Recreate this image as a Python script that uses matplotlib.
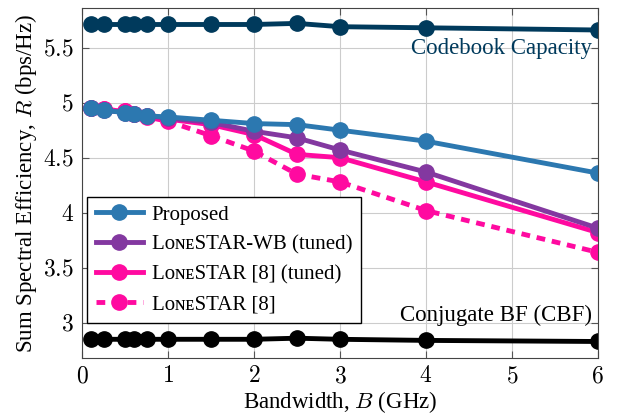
import numpy as np
import matplotlib
matplotlib.use("Agg")
import matplotlib.pyplot as plt

plt.rcParams['font.family'] = ['Liberation Serif', 'STIXGeneral', 'DejaVu Serif']
plt.rcParams['mathtext.fontset'] = 'cm'
plt.rcParams['font.size'] = 16.5

# bandwidth points (GHz)
bw = [0.1, 0.25, 0.5, 0.6, 0.75, 1, 1.5, 2, 2.5, 3, 4, 6]

codebook = [5.71, 5.71, 5.71, 5.71, 5.71, 5.71, 5.71, 5.71, 5.72, 5.69, 5.68, 5.66]
cbf = [2.85, 2.85, 2.85, 2.85, 2.85, 2.85, 2.85, 2.85, 2.86, 2.85, 2.84, 2.83]
proposed = [4.95, 4.93, 4.91, 4.90, 4.88, 4.87, 4.84, 4.81, 4.80, 4.75, 4.65, 4.36]
lonestar_wb = [4.95, 4.93, 4.91, 4.90, 4.88, 4.86, 4.82, 4.74, 4.68, 4.57, 4.37, 3.86]
lonestar_tuned = [4.95, 4.94, 4.92, 4.90, 4.88, 4.85, 4.80, 4.71, 4.53, 4.50, 4.28, 3.82]
lonestar = [4.95, 4.94, 4.92, 4.90, 4.87, 4.83, 4.70, 4.56, 4.35, 4.28, 4.02, 3.64]

xticks = [0, 1, 2, 3, 4, 5, 6]
yticks = [3, 3.5, 4, 4.5, 5, 5.5]

sc = "L\u1d0f\u0274\u1d07STAR"
labels = ["Proposed", sc + "-WB (tuned)", sc + " [8] (tuned)", sc + " [8]"]

c_code = '#003a5c'
c_prop = '#2c78b0'
c_wb = '#8338a0'
c_pink = '#ff0aa0'

fig = plt.figure(figsize=(6.36, 4.2), dpi=100)
ax = fig.add_axes([0.129, 0.1476, 0.811, 0.8334])

kw = dict(lw=3.5, marker='o', ms=11)
ax.plot(bw, codebook, color=c_code, **kw)
ax.plot(bw, cbf, color='black', **kw)
ax.plot(bw, lonestar, color=c_pink, ls=(0, (1.8, 1.4)), label=labels[3], **kw)
ax.plot(bw, lonestar_tuned, color=c_pink, label=labels[2], **kw)
ax.plot(bw, lonestar_wb, color=c_wb, label=labels[1], **kw)
ax.plot(bw, proposed, color=c_prop, label=labels[0], **kw)

ax.text(5.93, 5.495, "Codebook Capacity", color=c_code, ha='right', va='center')
ax.text(5.93, 3.07, "Conjugate BF (CBF)", color='black', ha='right', va='center')

ax.set_xlim(0, 6)
ax.set_ylim(2.68, 5.86)
ax.set_xticks(xticks)
ax.set_xticklabels(['$%g$' % t for t in xticks], fontsize=17)
ax.set_yticks(yticks)
ax.set_yticklabels(['$%g$' % t for t in yticks], fontsize=17)
ax.grid(True, color='#cccccc', lw=0.8)
ax.set_axisbelow(True)
ax.tick_params(direction='in', top=True, right=True, length=5, color='#555555', pad=6)
for s in ax.spines.values():
    s.set_color('#444444')

ax.set_xlabel("Bandwidth, $B$ (GHz)", labelpad=1)
ax.set_ylabel("Sum Spectral Efficiency, $R$ (bps/Hz)", labelpad=3)

h, l = ax.get_legend_handles_labels()
leg = ax.legend(h[::-1], l[::-1], loc='lower left', bbox_to_anchor=(0.01, 0.1),
                fancybox=False, edgecolor='black', framealpha=1, fontsize=15,
                handlelength=2.3, handletextpad=0.4, borderpad=0.4,
                labelspacing=0.5, borderaxespad=0)
leg.get_frame().set_linewidth(1.0)

fig.savefig("out.png", dpi=100)
